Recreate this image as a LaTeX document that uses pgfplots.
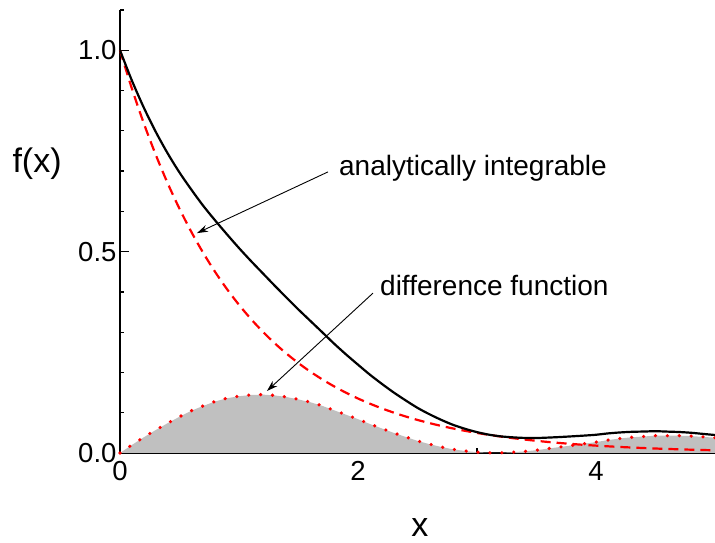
\documentclass[border=0pt]{standalone}
\usepackage{pgfplots}
\pgfplotsset{compat=1.18}
\usepackage{pgfplotstable}
\usepackage{fontspec}
\setmainfont{Liberation Sans}
\usetikzlibrary{arrows.meta}
\definecolor{silver}{RGB}{192,192,192}

\pgfplotstableread{
x    red     diff    black
0.0  1.0000  0.0000  1.0000
0.1  0.9048  0.0200  0.9248
0.2  0.8187  0.0390  0.8577
0.3  0.7408  0.0570  0.7978
0.4  0.6703  0.0740  0.7443
0.5  0.6065  0.0900  0.6965
0.6  0.5488  0.1050  0.6538
0.7  0.4966  0.1170  0.6136
0.8  0.4493  0.1280  0.5773
0.9  0.4066  0.1360  0.5426
1.0  0.3679  0.1410  0.5089
1.1  0.3329  0.1440  0.4769
1.2  0.3012  0.1450  0.4462
1.3  0.2725  0.1430  0.4155
1.4  0.2466  0.1390  0.3856
1.5  0.2231  0.1330  0.3561
1.6  0.2019  0.1260  0.3279
1.7  0.1827  0.1170  0.2997
1.8  0.1653  0.1060  0.2713
1.9  0.1496  0.0950  0.2446
2.0  0.1353  0.0840  0.2193
2.1  0.1225  0.0720  0.1945
2.2  0.1108  0.0610  0.1718
2.3  0.1003  0.0500  0.1503
2.4  0.0907  0.0400  0.1307
2.5  0.0821  0.0300  0.1121
2.6  0.0743  0.0220  0.0963
2.7  0.0672  0.0150  0.0822
2.8  0.0608  0.0090  0.0698
2.9  0.0550  0.0050  0.0600
3.0  0.0498  0.0020  0.0518
3.1  0.0450  0.0005  0.0455
3.2  0.0408  0.0005  0.0413
3.3  0.0369  0.0020  0.0389
3.4  0.0334  0.0040  0.0374
3.5  0.0302  0.0070  0.0372
3.6  0.0273  0.0110  0.0383
3.7  0.0247  0.0150  0.0397
3.8  0.0224  0.0190  0.0414
3.9  0.0202  0.0230  0.0432
4.0  0.0183  0.0270  0.0453
4.1  0.0166  0.0320  0.0486
4.2  0.0150  0.0360  0.0510
4.3  0.0136  0.0390  0.0526
4.4  0.0123  0.0410  0.0533
4.5  0.0111  0.0430  0.0541
4.6  0.0101  0.0430  0.0531
4.7  0.0091  0.0430  0.0521
4.8  0.0082  0.0420  0.0502
4.9  0.0074  0.0400  0.0474
5.0  0.0067  0.0380  0.0447
}\data

\begin{document}
\begin{tikzpicture}
\useasboundingbox (-120pt,-90pt) rectangle (595pt,453pt);
\begin{axis}[
  at={(0,0)}, anchor=south west,
  scale only axis, width=595pt, height=443pt,
  xmin=0, xmax=5, ymin=0, ymax=1.1,
  axis x line*=bottom, axis y line*=left,
  axis line style={line width=1.7pt, black},
  tick align=inside,
  major tick length=9pt, minor tick length=4.5pt,
  every tick/.style={line width=1.3pt, black},
  xtick={0,2,4}, minor xtick={1,3,5},
  ytick={0,0.5,1}, minor ytick={0.1,0.2,0.3,0.4,0.6,0.7,0.8,0.9,1.1},
  tick label style={font=\fontsize{27.5}{32}\selectfont},
  /pgf/number format/assume math mode=true,
  y tick label style={/pgf/number format/fixed, /pgf/number format/fixed zerofill, /pgf/number format/precision=1},
  x tick label style={yshift=-5pt},
  clip=false,
]
\addplot[draw=none, fill=silver] table[x=x, y=diff]{\data} \closedcycle;
\addplot[red, line width=3.6pt, line cap=round, dash pattern=on 0pt off 11.9pt, smooth] table[x=x, y=diff]{\data};
\addplot[red, line width=2.2pt, dash pattern=on 10pt off 6pt, smooth] table[x=x, y=red]{\data};
\addplot[black, line width=2.2pt, smooth] table[x=x, y=black]{\data};

\draw[-{Stealth[length=11pt,width=7pt]}, line width=0.9pt] (axis cs:1.748,0.698) -- (axis cs:0.647,0.546);
\node[anchor=base west, inner sep=0pt, font=\fontsize{28}{32}\selectfont] at (axis cs:1.84,0.690) {analytically integrable};
\draw[-{Stealth[length=11pt,width=7pt]}, line width=0.9pt] (axis cs:2.126,0.397) -- (axis cs:1.235,0.154);
\node[anchor=base west, inner sep=0pt, font=\fontsize{28}{32}\selectfont] at (axis cs:2.185,0.390) {difference function};

\node[font=\fontsize{34}{38}\selectfont] at (axis cs:-0.697,0.718) {f(x)};
\node[font=\fontsize{34}{38}\selectfont] at (axis cs:2.521,-0.186) {x};
\end{axis}
\end{tikzpicture}
\end{document}
